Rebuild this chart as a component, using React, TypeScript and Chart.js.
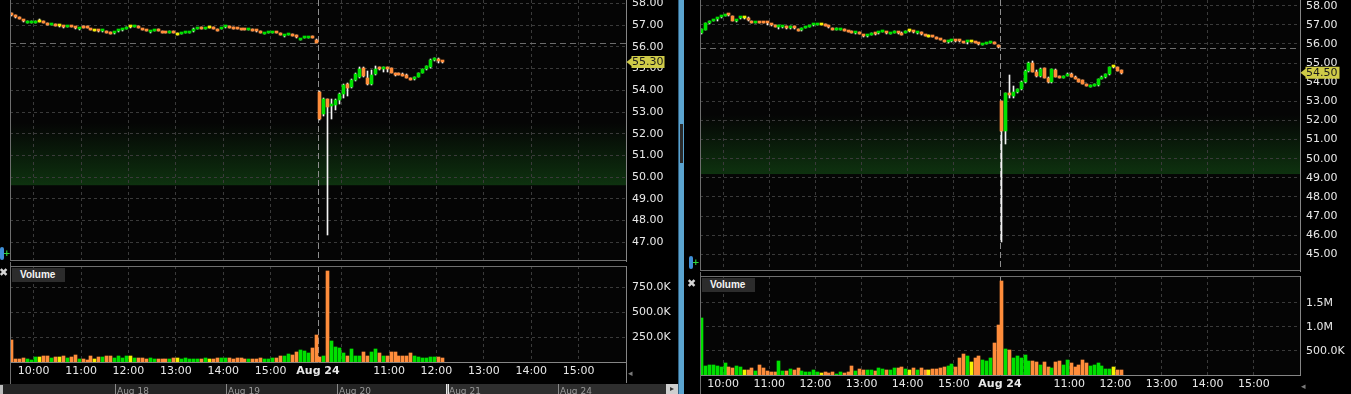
import React, { useEffect, useRef } from 'react';
import { Chart, registerables } from 'chart.js';

Chart.register(...registerables);

// ---------------- data ----------------
const sessionBars = 78; // 5-minute bars from 9:30 to 16:00
const slotCount = 156; // two sessions on the time axis
const hourTicks = [6, 18, 30, 42, 54, 66, 78, 84, 96, 108, 120, 132, 144];
const hourTickLabels = ['10:00', '11:00', '12:00', '13:00', '14:00', '15:00', 'Aug 24', '', '11:00', '12:00', '13:00', '14:00', '15:00'];

const leftPriceTicks = [47, 48, 49, 50, 51, 52, 53, 54, 55, 56, 57, 58];
const rightPriceTicks = [45, 46, 47, 48, 49, 50, 51, 52, 53, 54, 55, 56, 57, 58];
const leftVolumeTicks = [250, 500, 750]; // thousands
const rightVolumeTicks = [500, 1000, 1500]; // thousands

const leftPrevClose = 56.2;
const rightPrevClose = 55.77;
const leftZone = [49.63, 52.5];
const rightZone = [49.2, 52.3];
const navigatorLabels = ['Aug 18', 'Aug 19', 'Aug 20', 'Aug 21', 'Aug 24'];

// [open, high, low, close]
const leftCandles = [
  [57.51, 57.55, 57.44, 57.46], [57.42, 57.46, 57.35, 57.37], [57.34, 57.37, 57.27, 57.29], [57.23, 57.25, 57.15, 57.18], [57.12, 57.17, 57.11, 57.16],
  [57.12, 57.17, 57.11, 57.16], [57.12, 57.17, 57.10, 57.16], [57.16, 57.28, 57.13, 57.16], [57.17, 57.19, 57.12, 57.12], [57.06, 57.08, 56.99, 57.01],
  [57.01, 57.06, 56.99, 57.05], [57.02, 57.05, 56.97, 56.98], [56.94, 56.97, 56.91, 56.94], [56.95, 56.97, 56.88, 56.90], [56.92, 56.97, 56.91, 56.96],
  [56.96, 56.98, 56.91, 56.92], [56.91, 56.93, 56.84, 56.87], [56.83, 56.88, 56.79, 56.87], [56.91, 56.94, 56.87, 56.87], [56.91, 56.94, 56.87, 56.87],
  [56.82, 56.84, 56.76, 56.77], [56.74, 56.76, 56.72, 56.74], [56.75, 56.77, 56.68, 56.71], [56.72, 56.79, 56.70, 56.76], [56.71, 56.73, 56.64, 56.66],
  [56.66, 56.68, 56.59, 56.61], [56.63, 56.68, 56.59, 56.67], [56.71, 56.76, 56.70, 56.77], [56.76, 56.81, 56.75, 56.82], [56.83, 56.90, 56.82, 56.89],
  [56.91, 56.93, 56.89, 56.91], [56.93, 56.98, 56.92, 56.99], [56.94, 56.98, 56.86, 56.85], [56.82, 56.84, 56.77, 56.77], [56.78, 56.80, 56.73, 56.74],
  [56.67, 56.72, 56.66, 56.71], [56.72, 56.77, 56.71, 56.76], [56.79, 56.81, 56.74, 56.75], [56.69, 56.71, 56.64, 56.64], [56.67, 56.69, 56.62, 56.63],
  [56.66, 56.71, 56.65, 56.70], [56.67, 56.71, 56.62, 56.63], [56.57, 56.62, 56.55, 56.57], [56.61, 56.66, 56.60, 56.65], [56.63, 56.67, 56.62, 56.67],
  [56.64, 56.68, 56.63, 56.68], [56.71, 56.85, 56.70, 56.84], [56.83, 56.88, 56.81, 56.87], [56.88, 56.90, 56.83, 56.84], [56.83, 56.87, 56.82, 56.87],
  [56.89, 56.92, 56.87, 56.89], [56.88, 56.90, 56.84, 56.84], [56.80, 56.82, 56.74, 56.75], [56.84, 56.89, 56.82, 56.88], [56.90, 56.94, 56.89, 56.94],
  [56.93, 56.95, 56.88, 56.89], [56.88, 56.90, 56.84, 56.84], [56.85, 56.87, 56.81, 56.81], [56.82, 56.84, 56.78, 56.78], [56.81, 56.83, 56.77, 56.77],
  [56.80, 56.84, 56.79, 56.84], [56.79, 56.81, 56.75, 56.75], [56.75, 56.77, 56.70, 56.71], [56.69, 56.71, 56.64, 56.64], [56.60, 56.64, 56.59, 56.64],
  [56.63, 56.67, 56.62, 56.67], [56.63, 56.67, 56.62, 56.67], [56.67, 56.70, 56.62, 56.63], [56.60, 56.62, 56.55, 56.55], [56.50, 56.56, 56.46, 56.54],
  [56.54, 56.58, 56.53, 56.58], [56.56, 56.58, 56.51, 56.52], [56.52, 56.54, 56.42, 56.46], [56.34, 56.38, 56.30, 56.38], [56.40, 56.44, 56.39, 56.44],
  [56.43, 56.47, 56.42, 56.47], [56.45, 56.50, 56.41, 56.41], [56.33, 56.35, 56.18, 56.20],
  // Aug 24
  [53.92, 53.97, 52.65, 52.69], [52.92, 53.64, 52.80, 53.62], [53.58, 53.62, 47.35, 53.23], [53.26, 53.62, 52.67, 53.35], [53.31, 53.60, 53.08, 53.57],
  [53.57, 53.87, 53.38, 53.85], [53.81, 54.30, 53.65, 54.26], [54.31, 54.33, 53.74, 54.12], [54.15, 54.50, 54.10, 54.46], [54.46, 54.80, 54.42, 54.74],
  [54.62, 55.07, 54.56, 55.00], [55.03, 55.07, 54.62, 54.65], [54.58, 54.88, 54.25, 54.28], [54.28, 54.93, 54.26, 54.72], [54.74, 55.10, 54.70, 55.00],
  [55.03, 55.06, 54.92, 54.97], [54.98, 55.07, 54.85, 55.04], [55.04, 55.07, 54.85, 54.98], [55.03, 55.05, 54.78, 54.80], [54.80, 54.82, 54.66, 54.71],
  [54.77, 54.79, 54.70, 54.71], [54.77, 54.79, 54.68, 54.68], [54.72, 54.75, 54.56, 54.58], [54.57, 54.59, 54.48, 54.49], [54.53, 54.62, 54.46, 54.60],
  [54.62, 54.82, 54.60, 54.80], [54.80, 55.00, 54.78, 54.98], [54.98, 55.13, 54.95, 55.10], [55.08, 55.45, 55.05, 55.41], [55.39, 55.50, 55.36, 55.46],
  [55.45, 55.49, 55.28, 55.33], [55.33, 55.35, 55.27, 55.30],
];

const leftVolumes = [
  223, 30, 30, 40, 30, 23, 46, 46, 63, 63,
  36, 46, 46, 63, 36, 46, 73, 30, 30, 23,
  56, 30, 46, 46, 56, 56, 43, 56, 43, 63,
  56, 43, 43, 43, 30, 36, 30, 30, 30, 30,
  30, 43, 36, 30, 36, 30, 30, 30, 30, 36,
  30, 30, 36, 43, 36, 36, 30, 36, 43, 30,
  30, 30, 30, 43, 30, 30, 36, 43, 56, 63,
  80, 73, 100, 116, 110, 90, 136, 270,
  50, 60, 913, 206, 150, 136, 90, 63, 126, 56,
  56, 96, 63, 96, 133, 90, 56, 56, 96, 96,
  56, 56, 63, 90, 63, 50, 43, 36, 50, 50,
  50, 43,
];

const rightCandles = [
  [56.56, 56.80, 56.52, 56.78], [56.73, 57.12, 56.72, 57.08], [57.12, 57.22, 57.05, 57.20], [57.21, 57.27, 57.18, 57.27], [57.31, 57.36, 57.20, 57.37],
  [57.40, 57.45, 57.35, 57.46], [57.48, 57.53, 57.46, 57.54], [57.56, 57.58, 57.48, 57.50], [57.46, 57.48, 57.18, 57.20], [57.21, 57.27, 57.16, 57.27],
  [57.34, 57.42, 57.30, 57.40], [57.37, 57.42, 57.30, 57.37], [57.36, 57.40, 57.22, 57.25], [57.18, 57.20, 57.08, 57.12], [57.11, 57.16, 57.10, 57.15],
  [57.12, 57.14, 57.09, 57.10], [57.12, 57.14, 57.09, 57.10], [57.12, 57.14, 56.98, 57.10], [57.04, 57.06, 56.96, 56.98], [56.95, 56.97, 56.88, 56.89],
  [56.88, 56.93, 56.78, 56.92], [56.87, 56.93, 56.86, 56.93], [56.90, 56.92, 56.80, 56.84], [56.82, 56.92, 56.80, 56.92], [56.91, 56.93, 56.80, 56.84],
  [56.76, 56.78, 56.69, 56.70], [56.72, 56.84, 56.70, 56.84], [56.83, 56.88, 56.81, 56.87], [56.88, 56.92, 56.87, 56.92], [56.98, 57.06, 56.96, 57.04],
  [56.98, 57.03, 56.97, 57.03], [57.01, 57.06, 56.97, 57.01], [57.03, 57.05, 56.94, 56.96], [56.93, 56.95, 56.84, 56.87], [56.81, 56.83, 56.74, 56.75],
  [56.73, 56.86, 56.72, 56.77], [56.73, 56.78, 56.72, 56.77], [56.76, 56.78, 56.70, 56.70], [56.67, 56.69, 56.61, 56.61], [56.65, 56.67, 56.60, 56.60],
  [56.55, 56.60, 56.54, 56.59], [56.60, 56.62, 56.50, 56.52], [56.46, 56.49, 56.38, 56.40], [56.41, 56.46, 56.38, 56.45], [56.49, 56.55, 56.48, 56.55],
  [56.54, 56.56, 56.48, 56.50], [56.56, 56.62, 56.50, 56.62], [56.62, 56.67, 56.61, 56.66], [56.62, 56.64, 56.53, 56.56], [56.52, 56.57, 56.51, 56.56],
  [56.57, 56.66, 56.56, 56.61], [56.61, 56.63, 56.54, 56.57], [56.53, 56.62, 56.47, 56.47], [56.56, 56.70, 56.55, 56.68], [56.69, 56.72, 56.65, 56.69],
  [56.67, 56.69, 56.59, 56.61], [56.55, 56.60, 56.54, 56.59], [56.62, 56.64, 56.46, 56.50], [56.46, 56.48, 56.40, 56.40], [56.38, 56.46, 56.35, 56.38],
  [56.40, 56.44, 56.35, 56.36], [56.32, 56.34, 56.26, 56.26], [56.25, 56.27, 56.19, 56.19], [56.18, 56.20, 56.12, 56.12], [56.08, 56.13, 56.04, 56.12],
  [56.14, 56.20, 56.13, 56.20], [56.20, 56.22, 56.13, 56.14], [56.20, 56.22, 56.13, 56.14], [56.10, 56.12, 56.04, 56.04], [56.08, 56.12, 55.99, 56.12],
  [56.12, 56.18, 56.08, 56.12], [56.11, 56.13, 56.04, 56.05], [56.04, 56.06, 55.96, 55.98], [55.94, 55.99, 55.93, 55.98], [56.01, 56.06, 56.00, 56.05],
  [56.05, 56.09, 56.04, 56.09], [56.10, 56.12, 56.00, 55.99], [55.94, 55.96, 55.78, 55.84],
  // Aug 24
  [53.02, 53.03, 45.63, 51.45], [51.45, 53.42, 50.75, 53.42], [53.43, 54.38, 53.20, 53.33], [53.30, 53.80, 53.18, 53.50], [53.50, 53.66, 53.45, 53.63],
  [53.63, 54.05, 53.60, 54.03], [54.03, 54.62, 53.98, 54.59], [54.59, 55.08, 54.55, 55.02], [55.02, 55.12, 54.52, 54.55], [54.55, 54.62, 54.25, 54.32],
  [54.32, 54.72, 54.28, 54.69], [54.72, 54.75, 54.22, 54.24], [54.24, 54.28, 53.96, 53.99], [53.99, 54.70, 53.96, 54.67], [54.64, 54.67, 54.25, 54.29],
  [54.32, 54.35, 54.22, 54.24], [54.24, 54.34, 54.22, 54.32], [54.32, 54.46, 54.30, 54.43], [54.43, 54.46, 54.26, 54.29], [54.29, 54.31, 54.15, 54.17],
  [54.17, 54.19, 54.01, 54.03], [54.11, 54.13, 53.89, 53.91], [53.91, 53.93, 53.78, 53.80], [53.77, 53.87, 53.74, 53.85], [53.82, 53.93, 53.80, 53.91],
  [53.85, 54.17, 53.82, 54.15], [54.17, 54.31, 54.15, 54.29], [54.25, 54.45, 54.23, 54.43], [54.43, 54.80, 54.40, 54.78], [54.78, 54.84, 54.74, 54.78],
  [54.78, 54.80, 54.58, 54.60], [54.64, 54.66, 54.45, 54.50],
];

const rightVolumes = [
  1196, 196, 216, 216, 196, 175, 258, 175, 154, 196,
  175, 112, 112, 154, 92, 216, 154, 92, 71, 62,
  300, 92, 92, 133, 98, 154, 92, 71, 71, 112,
  71, 50, 71, 50, 71, 29, 71, 50, 71, 196,
  92, 133, 112, 98, 98, 92, 154, 133, 112, 112,
  140, 154, 167, 133, 112, 140, 112, 154, 112, 98,
  133, 133, 154, 167, 195, 222, 167, 362, 431, 404,
  264, 347, 404, 322, 300, 348, 667, 1035,
  1952, 535, 514, 362, 390, 362, 410, 292, 285, 265,
  216, 265, 167, 154, 265, 285, 202, 306, 244, 167,
  202, 306, 244, 181, 202, 244, 195, 119, 119, 167,
  98, 98,
];

// ---------------- styling ----------------
const GREEN = '#00e000';
const ORANGE = '#ff8d3b';
const YELLOW = '#f2f200';
const WICK = '#f4f4f4';
const GRID = '#3a3a3a';
const AXIS = '#858585';
const FRAME = '#6e6e6e';
const LABEL = '#e8e8e8';
const TAG = '#cfcb48';
const FONT = 'DejaVu Sans';

const candleColor = (c: number[]) => (c[3] > c[0] ? GREEN : c[3] < c[0] ? ORANGE : YELLOW);

const formatVolume = (v: number) => (v >= 1000 ? (v / 1000).toFixed(1) + 'M' : v.toFixed(1) + 'K');

function xScale(showLabels: boolean, axisHeight: number) {
  return {
    type: 'linear',
    min: 0,
    max: slotCount,
    bounds: 'data',
    offset: false,
    grid: {
      offset: false,
      drawTicks: false,
      color: (ctx: any) => (ctx.tick && ctx.tick.value === sessionBars ? 'rgba(0,0,0,0)' : GRID),
    },
    border: { display: showLabels, color: AXIS, width: 1, dash: [3, 3] },
    ticks: {
      display: showLabels,
      autoSkip: false,
      maxRotation: 0,
      minRotation: 0,
      padding: 3,
      color: LABEL,
      font: (ctx: any) => ({
        family: FONT,
        size: 11,
        weight: ctx.tick && ctx.tick.value === sessionBars ? 'bold' : 'normal',
      }),
      callback: (v: any) => {
        const k = hourTicks.indexOf(Number(v));
        return k >= 0 ? hourTickLabels[k] : '';
      },
    },
    afterBuildTicks: (s: any) => {
      s.ticks = hourTicks.map((v) => ({ value: v }));
    },
    afterFit: (s: any) => {
      s.height = axisHeight;
      s.paddingLeft = 0;
      s.paddingRight = 0;
    },
  };
}

function yScale(min: number, max: number, tickValues: number[], width: number, fmt: (v: number) => string) {
  return {
    type: 'linear',
    position: 'right',
    min,
    max,
    bounds: 'data',
    beginAtZero: false,
    grid: { drawTicks: false, color: GRID },
    border: { display: true, color: AXIS, width: 1, dash: [3, 3] },
    ticks: {
      autoSkip: false,
      padding: 6,
      color: LABEL,
      font: { family: FONT, size: 11 },
      callback: (v: any) => fmt(Number(v)),
    },
    afterBuildTicks: (s: any) => {
      s.ticks = tickValues.map((v) => ({ value: v }));
    },
    afterFit: (s: any) => {
      s.width = width;
      s.paddingTop = 0;
      s.paddingBottom = 0;
    },
  };
}

// snaps bar elements (positioned by the scales) to whole device pixels so thin wicks stay crisp
const pixelSnap = {
  id: 'pixelSnap',
  beforeDatasetsDraw(chart: any) {
    chart.getSortedVisibleDatasetMetas().forEach((meta: any) => {
      meta.data.forEach((el: any) => {
        el.x = Math.floor(el.x) + 0.5;
        let y = Math.round(el.y);
        const b = Math.round(el.base);
        if (y === b) y = b - 1;
        el.y = y;
        el.base = b;
      });
    });
  },
};

function decorPlugin(o: any) {
  return {
    id: 'panelDecor',
    beforeDraw(chart: any) {
      const { ctx, chartArea: a } = chart;
      ctx.save();
      ctx.fillStyle = '#000';
      ctx.fillRect(0, 0, chart.width, chart.height);
      ctx.fillStyle = '#050505';
      ctx.fillRect(a.left, a.top, a.right - a.left, a.bottom - a.top);
      if (o.zone) {
        const y = chart.scales.y;
        const yb = y.getPixelForValue(o.zone[0]);
        const yt = y.getPixelForValue(o.zone[1]);
        const g = ctx.createLinearGradient(0, yt, 0, yb);
        g.addColorStop(0, 'rgba(20,80,22,0)');
        g.addColorStop(0.5, 'rgba(20,80,22,0.3)');
        g.addColorStop(1, 'rgba(20,80,22,0.6)');
        ctx.fillStyle = g;
        ctx.fillRect(a.left, yt, a.right - a.left, yb - yt);
      }
      ctx.restore();
    },
    beforeDatasetsDraw(chart: any) {
      const { ctx, chartArea: a } = chart;
      ctx.save();
      ctx.lineWidth = 1;
      const x = Math.round(chart.scales.x.getPixelForValue(sessionBars)) + 0.5;
      ctx.strokeStyle = '#8e8e8e';
      ctx.setLineDash([6, 3]);
      ctx.beginPath();
      ctx.moveTo(x, a.top);
      ctx.lineTo(x, a.bottom);
      ctx.stroke();
      if (o.prevClose !== undefined) {
        const y = Math.round(chart.scales.y.getPixelForValue(o.prevClose)) + 0.5;
        ctx.strokeStyle = '#6c6c6c';
        ctx.setLineDash([6, 4]);
        ctx.beginPath();
        ctx.moveTo(a.left, y);
        ctx.lineTo(a.right, y);
        ctx.stroke();
      }
      ctx.restore();
    },
    afterDraw(chart: any) {
      const { ctx, chartArea: a } = chart;
      ctx.save();
      ctx.lineWidth = 1;
      ctx.setLineDash([]);
      ctx.strokeStyle = FRAME;
      ctx.beginPath();
      ctx.moveTo(a.left + 0.5, 0);
      ctx.lineTo(a.left + 0.5, o.frameBottom ? a.bottom : chart.height);
      if (o.frameBottom) {
        ctx.moveTo(a.left, a.bottom - 0.5);
        ctx.lineTo(a.right, a.bottom - 0.5);
      }
      if (o.frameTop) {
        ctx.moveTo(a.left, a.top + 0.5);
        ctx.lineTo(a.right, a.top + 0.5);
      }
      ctx.stroke();
      if (o.axisExtend) {
        ctx.strokeStyle = AXIS;
        ctx.beginPath();
        ctx.moveTo(a.right + 0.5, a.bottom);
        ctx.lineTo(a.right + 0.5, o.axisExtend);
        ctx.stroke();
      }
      if (o.lastClose !== undefined) {
        const y = chart.scales.y.getPixelForValue(o.lastClose);
        const x0 = a.right + 0.5;
        ctx.fillStyle = TAG;
        ctx.beginPath();
        ctx.moveTo(x0, y);
        ctx.lineTo(x0 + 5, y - 4);
        ctx.lineTo(x0 + 5, y - 6);
        ctx.lineTo(x0 + o.tagWidth, y - 6);
        ctx.lineTo(x0 + o.tagWidth, y + 6);
        ctx.lineTo(x0 + 5, y + 6);
        ctx.lineTo(x0 + 5, y + 4);
        ctx.closePath();
        ctx.fill();
        ctx.fillStyle = '#1c1c1c';
        ctx.font = `11px "${FONT}"`;
        ctx.textBaseline = 'middle';
        ctx.textAlign = 'left';
        ctx.fillText(o.lastClose.toFixed(2), a.right + 6, y + 0.5);
      }
      ctx.restore();
    },
  };
}

function baseOptions(padding: any, scales: any) {
  return {
    responsive: false,
    maintainAspectRatio: false,
    animation: false,
    devicePixelRatio: 1,
    events: [],
    layout: { autoPadding: false, padding },
    plugins: { legend: { display: false }, tooltip: { enabled: false } },
    scales,
  };
}

function priceChart(canvas: HTMLCanvasElement, candles: number[][], range: number[], ticks: number[], axisWidth: number, padLeft: number, prevClose: number, zone: number[], tagWidth: number) {
  const colors = candles.map(candleColor);
  const bodies = candles.map((c, i) => ({ x: i + 0.5, y: [c[0], c[3]] }));
  const wicks = candles.map((c, i) => ({ x: i + 0.5, y: [c[2], c[1]] }));
  return new Chart(canvas, {
    type: 'bar',
    data: {
      datasets: [
        { data: bodies, backgroundColor: colors, borderWidth: 0, barThickness: 3, minBarLength: 2, grouped: false },
        { data: wicks, backgroundColor: WICK, borderWidth: 0, barThickness: 1, grouped: false },
      ],
    },
    options: baseOptions(
      { left: padLeft, right: 0, top: 0, bottom: 1 },
      {
        x: xScale(false, 0),
        y: yScale(range[0], range[1], ticks, axisWidth, (v) => v.toFixed(2)),
      }
    ) as any,
    plugins: [
      pixelSnap,
      decorPlugin({ zone, prevClose, lastClose: candles[candles.length - 1][3], tagWidth, frameBottom: true }),
    ],
  } as any);
}

function volumeChart(canvas: HTMLCanvasElement, volumes: number[], candles: number[][], maxV: number, ticks: number[], axisWidth: number, padLeft: number, axisHeight: number, axisExtend: number) {
  const colors = candles.map(candleColor);
  const bars = volumes.map((v, i) => ({ x: i + 0.5, y: v }));
  return new Chart(canvas, {
    type: 'bar',
    data: {
      datasets: [{ data: bars, backgroundColor: colors, borderWidth: 0, barThickness: 3, grouped: false }],
    },
    options: baseOptions(
      { left: padLeft, right: 0, top: 4, bottom: 0 },
      {
        x: xScale(true, axisHeight),
        y: yScale(0, maxV, ticks, axisWidth, formatVolume),
      }
    ) as any,
    plugins: [pixelSnap, decorPlugin({ frameTop: true, axisExtend })],
  } as any);
}

const abs = (s: any) => ({ position: 'absolute', ...s });

function VolumeTag({ left, top }: { left: number; top: number }) {
  return (
    <div
      style={abs({
        left,
        top,
        width: 53,
        height: 14,
        background: '#2c2c2c',
        color: '#f4f4f4',
        font: 'bold 10px "Liberation Sans", sans-serif',
        lineHeight: '14px',
        paddingLeft: 8,
        boxSizing: 'border-box',
      })}
    >
      Volume
    </div>
  );
}

function PanIcon({ left, top }: { left: number; top: number }) {
  return (
    <>
      <div style={abs({ left, top, width: 4, height: 13, background: '#3f8fd8', borderRadius: 2 })} />
      <div style={abs({ left: left + 3, top: top + 2, color: '#2fd43a', font: 'bold 9px "DejaVu Sans"', lineHeight: '9px' })}>+</div>
    </>
  );
}

function CloseIcon({ left, top }: { left: number; top: number }) {
  return <div style={abs({ left, top, color: '#d4d4d4', font: 'bold 11px "DejaVu Sans"', lineHeight: '11px' })}>✖</div>;
}

export default function App() {
  const lp = useRef<HTMLCanvasElement>(null);
  const lv = useRef<HTMLCanvasElement>(null);
  const rp = useRef<HTMLCanvasElement>(null);
  const rv = useRef<HTMLCanvasElement>(null);

  useEffect(() => {
    document.body.style.background = '#000';
    Chart.defaults.font.family = FONT;
    const charts = [
      priceChart(lp.current!, leftCandles, [46.14, 58.16], leftPriceTicks, 54, 10, leftPrevClose, leftZone, 38),
      volumeChart(lv.current!, leftVolumes, leftCandles, 960, leftVolumeTicks, 54, 10, 22, 121),
      priceChart(rp.current!, rightCandles, [44.13, 58.3], rightPriceTicks, 51, 16, rightPrevClose, rightZone, 39),
      volumeChart(rv.current!, rightVolumes, rightCandles, 2062, rightVolumeTicks, 51, 16, 19, 0),
    ];
    return () => charts.forEach((c) => c.destroy());
  }, []);

  const navTicks = [115, 226, 337, 447, 558];

  return (
    <div style={abs({ left: 0, top: 0, width: 1351, height: 394, background: '#000', overflow: 'hidden', fontFamily: FONT })}>
      <canvas ref={lp} width={680} height={262} style={abs({ left: 0, top: 0 })} />
      <canvas ref={lv} width={680} height={122} style={abs({ left: 0, top: 262 })} />
      <canvas ref={rp} width={667} height={272} style={abs({ left: 684, top: 0 })} />
      <canvas ref={rv} width={667} height={122} style={abs({ left: 684, top: 272 })} />

      {/* left panel overlays */}
      <VolumeTag left={12} top={268} />
      <PanIcon left={0} top={247} />
      <CloseIcon left={-1} top={267} />
      <div style={abs({ left: 628, top: 368, color: '#7a7a7a', font: '9px "DejaVu Sans"' })}>◂</div>

      {/* navigator strip */}
      <div style={abs({ left: 0, top: 384, width: 678, height: 10, background: '#242424', overflow: 'hidden' })}>
        <div style={abs({ left: 0, top: 1, width: 3, height: 9, background: '#bdbdbd' })} />
        <div style={abs({ left: 447, top: 0, width: 219, height: 10, background: '#2e2e2e' })} />
        <div style={abs({ left: 446, top: 0, width: 3, height: 10, background: '#e6e6e6' })} />
        {navigatorLabels.map((t, i) => (
          <div
            key={t}
            style={abs({
              left: navTicks[i],
              top: 0,
              height: 10,
              borderLeft: '1px solid #8a8a8a',
              paddingLeft: 1,
              color: '#9a9a9a',
              font: '9px "DejaVu Sans"',
              lineHeight: '14px',
              whiteSpace: 'nowrap',
            })}
          >
            {t}
          </div>
        ))}
        <div style={abs({ left: 666, top: 0, width: 12, height: 10, background: '#cfcfcf', color: '#333', font: '8px "DejaVu Sans"', lineHeight: '10px', textAlign: 'center' })}>▸</div>
      </div>

      {/* divider between the two panels */}
      <div style={abs({ left: 678, top: 0, width: 6, height: 394, background: '#5ba4d0' })} />
      <div style={abs({ left: 678, top: 0, width: 1, height: 394, background: '#2f5f80' })} />
      <div style={abs({ left: 680, top: 124, width: 3, height: 39, background: '#2a2a2a' })} />

      {/* right panel overlays */}
      <VolumeTag left={702} top={278} />
      <PanIcon left={689} top={256} />
      <CloseIcon left={687} top={278} />
      <div style={abs({ left: 1301, top: 381, color: '#7a7a7a', font: '9px "DejaVu Sans"' })}>◂</div>
    </div>
  );
}
